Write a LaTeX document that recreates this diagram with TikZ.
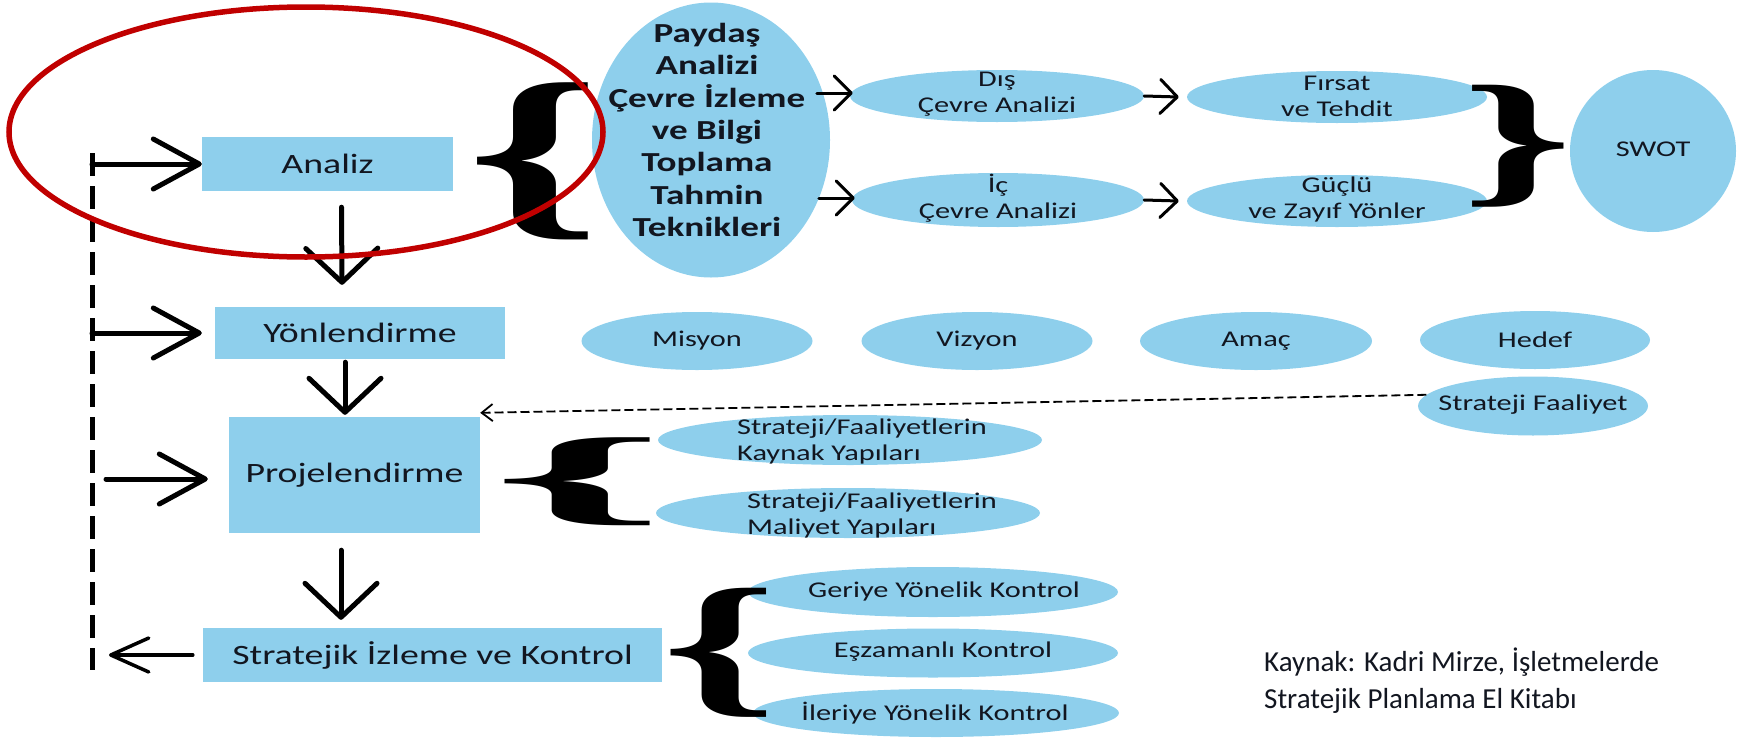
\documentclass[tikz,border=0pt]{standalone}
\usepackage{graphicx}
\usepackage{fontspec}
\setmainfont{Carlito}
\newfontfamily\wfont{Carlito}[FakeStretch=1.35]
\newfontfamily\bracefont{Liberation Serif}
\usetikzlibrary{arrows.meta,shapes.geometric,calc}
\definecolor{boxblue}{RGB}{142,207,236}
\definecolor{ringred}{RGB}{192,0,0}
\definecolor{ink}{RGB}{18,22,32}

\begin{document}
\begin{tikzpicture}[x=1pt,y=-1pt,
  box/.style={rectangle, fill=boxblue, inner sep=0pt, text=ink, font=\wfont\fontsize{28}{32}\selectfont},
  oval/.style={ellipse, fill=boxblue, inner sep=0pt},
  otext/.style={inner sep=0pt, text=ink, font=\wfont\fontsize{22.5}{26}\selectfont, align=center},
  bigtext/.style={inner sep=0pt, text=ink, font=\wfont\bfseries\fontsize{27.5}{32.3}\selectfont, align=center},
  bracenode/.style={inner sep=0pt, text=black},
  bigarr/.style={line width=5pt, line cap=round, -{Straight Barb[length=46pt, width=50pt, round]}},
  downarr/.style={line width=5pt, line cap=round, -{Straight Barb[length=34pt, width=72pt, round]}},
  thinarr/.style={line width=3pt, line cap=round, -{Straight Barb[length=17pt, width=34pt, round]}},
  backarr/.style={line width=3.5pt, line cap=round, -{Straight Barb[length=38pt, width=34pt, round]}},
  dasharr/.style={line width=1.8pt, dash pattern=on 9pt off 4pt, -{Straight Barb[length=11pt, width=17pt]}},
  fbline/.style={line width=5pt, dash pattern=on 23pt off 10pt},
]
\useasboundingbox (0,0) rectangle (1738,739);

% planning stages
\node[box, minimum width=251pt, minimum height=54pt] (analiz) at (327.5,164) {Analiz};
\node[box, minimum width=290pt, minimum height=52pt] (yon) at (360,333) {Yönlendirme};
\node[box, minimum width=251pt, minimum height=116pt] (proj) at (354.5,475) {Projelendirme};
\node[box, minimum width=459pt, minimum height=54pt] (strat) at (432.5,655) {Stratejik İzleme ve Kontrol};

% analysis branch
\node[oval, minimum width=238pt, minimum height=275pt] (paydas) at (711,140) {};
\node[bigtext] (paydas-t) at (707,130) {Paydaş\\Analizi\\Çevre İzleme\\ve Bilgi\\Toplama\\Tahmin\\Teknikleri};
\node[oval, minimum width=294pt, minimum height=52pt] (dis) at (997,96) {};
\node[otext] (dis-t) at (997,94) {Dış\\Çevre Analizi};
\node[oval, minimum width=292pt, minimum height=54pt] (ic) at (998,200) {};
\node[otext] (ic-t) at (998,198) {İç\\Çevre Analizi};
\node[oval, minimum width=300pt, minimum height=52pt] (firsat) at (1337,97) {};
\node[otext] (firsat-t) at (1337,96) {Fırsat\\ve Tehdit};
\node[oval, minimum width=300pt, minimum height=52pt] (guclu) at (1337,201) {};
\node[otext] (guclu-t) at (1337,199) {Güçlü\\ve Zayıf Yönler};
\node[oval, minimum width=166pt, minimum height=162pt] (swot) at (1653,151) {};
\node[otext] (swot-t) at (1653,149) {SWOT};

% direction row
\node[oval, minimum width=231pt, minimum height=58pt] (misyon) at (697,341) {};
\node[otext] (misyon-t) at (misyon) {Misyon};
\node[oval, minimum width=231pt, minimum height=58pt] (vizyon) at (977,341) {};
\node[otext] (vizyon-t) at (vizyon) {Vizyon};
\node[oval, minimum width=232pt, minimum height=58pt] (amac) at (1256,341) {};
\node[otext] (amac-t) at (amac) {Amaç};
\node[oval, minimum width=230pt, minimum height=58pt] (hedef) at (1535,340) {};
\node[otext] (hedef-t) at (hedef) {Hedef};
\node[oval, minimum width=230pt, minimum height=59pt] (sf) at (1533,406) {};
\node[otext] (sf-t) at (1533,405) {Strateji Faaliyet};

% project structures
\node[oval, minimum width=384pt, minimum height=50pt] (kay) at (850,440) {};
\node[otext, align=left] (kay-t) at (862,441) {Strateji/Faaliyetlerin\\Kaynak Yapıları};
\node[oval, minimum width=384pt, minimum height=50pt] (mal) at (848,513) {};
\node[otext, align=left] (mal-t) at (872,515) {Strateji/Faaliyetlerin\\Maliyet Yapıları};

% control types
\node[oval, minimum width=370pt, minimum height=50pt] (ger) at (933,592) {};
\node[otext] (ger-t) at (944,591) {Geriye Yönelik Kontrol};
\node[oval, minimum width=370pt, minimum height=49pt] (esz) at (933,653) {};
\node[otext] (esz-t) at (943,652) {Eşzamanlı Kontrol};
\node[oval, minimum width=366pt, minimum height=48pt] (ile) at (936,713) {};
\node[otext] (ile-t) at (935,713) {İleriye Yönelik Kontrol};

% braces
\node[bracenode] (br-an) at (534,161.5) {\resizebox*{135pt}{157pt}{\bracefont\bfseries\{}};
\node[bracenode] (br-pr) at (578.6,482) {\resizebox*{177pt}{88pt}{\bracefont\bfseries\{}};
\node[bracenode] (br-st) at (719.7,652.5) {\resizebox*{116.5pt}{129pt}{\bracefont\bfseries\{}};
\node[bracenode] (br-sw) at (1517.5,146) {\resizebox*{111.5pt}{122pt}{\bracefont\bfseries\}}};

% source note
\node[anchor=west, align=left, inner sep=0pt, text=ink, font=\fontsize{29}{37}\selectfont] (src) at (1264,681)
  {Kaynak: Kadri Mirze, İşletmelerde\\Stratejik Planlama El Kitabı};

% feedback line
\coordinate (fbtop) at (92,153);
\coordinate (fbbot) at (92,670);
\draw[fbline] (fbtop) -- (fbbot);

% connectors
\draw[bigarr] (fbtop |- analiz.west) -- (analiz.west);
\draw[bigarr] (fbtop |- yon.west) -- ([xshift=-13pt]yon.west);
\draw[bigarr] ([shift={(14,4)}]fbtop |- proj.west) -- ([shift={(-21,4)}]proj.west);
\draw[backarr] ([xshift=-10pt]strat.west) -- ([xshift=17pt]fbbot |- strat.west);
\draw[downarr] ($(analiz.south)+(14,16)$) -- ($(yon.north)+(-18,-22)$);
\draw[downarr] ($(yon.south)+(-15,3)$) -- ($(proj.north)+(-9.5,-2)$);
\draw[downarr] ($(proj.south)+(-13.5,17)$) -- ($(strat.north)+(-91.5,-8)$);
\draw[thinarr] ([shift={(-33,-3)}]dis.west) -- ([shift={(3,-3)}]dis.west);
\draw[thinarr] ([shift={(-33,-2)}]ic.west) -- ([shift={(3,-2)}]ic.west);
\draw[thinarr] (dis.east) -- ([xshift=-8pt]firsat.west);
\draw[thinarr] (ic.east) -- ([xshift=-8pt]guclu.west);
\draw[dasharr] (sf.174) -- ([yshift=4pt]proj.north east);

% highlight ring
\node[ellipse, draw=ringred, line width=5.5pt, minimum width=594pt, minimum height=250pt, inner sep=0pt] (ring) at (306,132) {};
\end{tikzpicture}
\end{document}
